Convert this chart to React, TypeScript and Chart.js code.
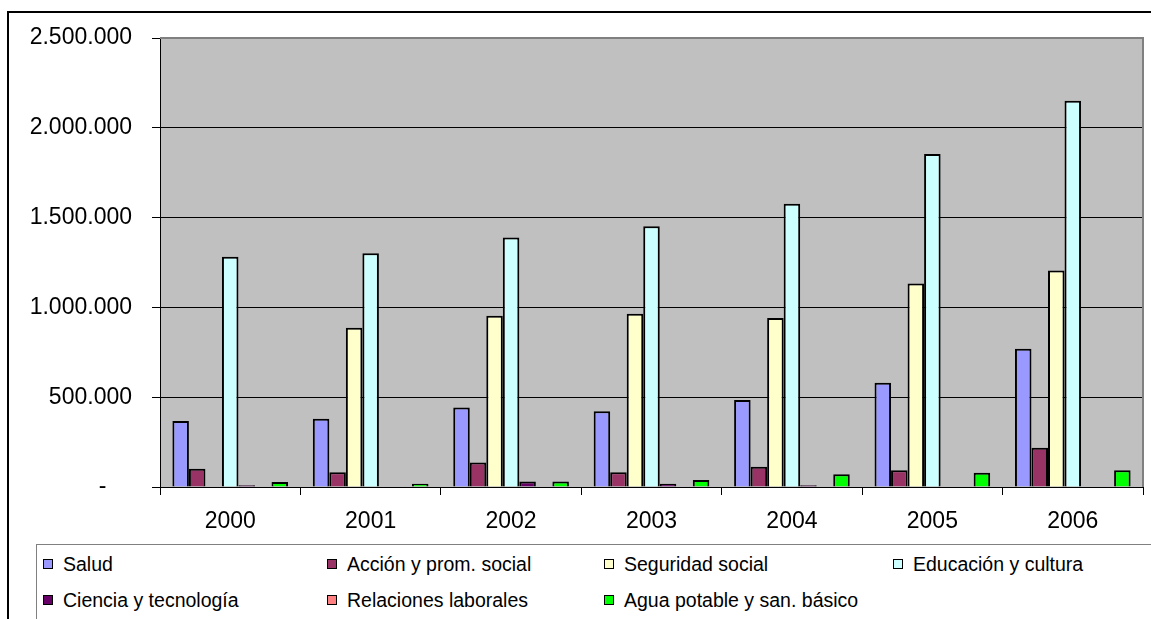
import React, { useEffect, useRef } from "react";
import { Chart, registerables } from "chart.js";

Chart.register(...registerables);

// Years on the category axis
const years = ["2000", "2001", "2002", "2003", "2004", "2005", "2006"];

// Spending per function and year
const salud = [368000, 380000, 442000, 422000, 484000, 580000, 770000];
const accionSocial = [102000, 82000, 136000, 82000, 113000, 93000, 219000];
const seguridadSocial = [0, 887000, 953000, 964000, 941000, 1133000, 1205000];
const educacionCultura = [1282000, 1302000, 1389000, 1452000, 1577000, 1854000, 2150000];
const cienciaTecnologia = [10000, 0, 30000, 18000, 10000, 0, 0];
const relacionesLaborales = [0, 0, 0, 0, 0, 0, 0];
const aguaPotable = [28000, 18000, 30000, 39000, 71000, 80000, 93000];

const seriesNames = [
  "Salud",
  "Acción y prom. social",
  "Seguridad social",
  "Educación y cultura",
  "Ciencia y tecnología",
  "Relaciones laborales",
  "Agua potable y san. básico",
];
const seriesValues = [
  salud,
  accionSocial,
  seguridadSocial,
  educacionCultura,
  cienciaTecnologia,
  relacionesLaborales,
  aguaPotable,
];
const seriesColors = ["#9999FF", "#993366", "#FFFFCC", "#CCFFFF", "#660066", "#FF8080", "#00FF00"];

// Value axis
const yMax = 2500000;
const yStep = 500000;

const FONT = "'Liberation Sans', Arial, Helvetica, sans-serif";

// Layout of the legend block: columns (square x) and row centres
const LEGEND_COLS = [43, 327, 604, 893];
const LEGEND_ROWS = [563.5, 600];

function formatThousands(v: number): string {
  if (v === 0) return "-    ";
  return String(Math.round(v)).replace(/\B(?=(\d{3})+(?!\d))/g, ".");
}

// Grey plot area with a grey frame on the top and right edges
const plotFrame = {
  id: "plotFrame",
  beforeDraw(chart: any) {
    const { ctx, chartArea: a } = chart;
    ctx.save();
    ctx.fillStyle = "#C0C0C0";
    ctx.fillRect(a.left, a.top, a.right - a.left, a.bottom - a.top);
    ctx.restore();
  },
  afterDraw(chart: any) {
    const { ctx, chartArea: a } = chart;
    ctx.save();
    ctx.strokeStyle = "#808080";
    ctx.lineWidth = 2;
    ctx.beginPath();
    ctx.moveTo(a.left, a.top);
    ctx.lineTo(a.right, a.top);
    ctx.lineTo(a.right, a.bottom);
    ctx.stroke();
    ctx.restore();
  },
};

function BarChart() {
  const ref = useRef<HTMLCanvasElement | null>(null);

  useEffect(() => {
    if (!ref.current) return;
    const chart = new Chart(ref.current, {
      type: "bar",
      data: {
        labels: years,
        datasets: seriesNames.map((name, i) => ({
          label: name,
          data: seriesValues[i],
          backgroundColor: seriesColors[i],
          borderColor: "#000000",
          borderWidth: 2,
          inflateAmount: 0,
          barPercentage: 1,
          categoryPercentage: 7 / 8.5,
        })),
      },
      options: {
        responsive: false,
        animation: false,
        devicePixelRatio: 1,
        layout: { padding: { left: 0, top: 38, right: 8, bottom: 0 } },
        plugins: {
          legend: { display: false },
          tooltip: { enabled: false },
          title: { display: false },
        },
        scales: {
          x: {
            afterFit: (scale: any) => {
              scale.height = 53;
            },
            grid: {
              display: true,
              drawOnChartArea: false,
              drawTicks: true,
              tickLength: 8,
              color: "#000000",
              offset: true,
            },
            border: { color: "#000000", width: 1 },
            ticks: {
              color: "#000000",
              padding: 13,
              font: { family: FONT, size: 23 },
              maxRotation: 0,
            },
          },
          y: {
            min: 0,
            max: yMax,
            afterFit: (scale: any) => {
              scale.width = 160;
            },
            grid: {
              color: (c: any) => (c.tick && c.tick.value === yMax ? "#808080" : "#000000"),
              tickColor: "#000000",
              tickLength: 8,
              lineWidth: 1,
            },
            border: { color: "#000000", width: 1 },
            ticks: {
              stepSize: yStep,
              color: "#000000",
              padding: 20,
              font: { family: FONT, size: 23 },
              callback: (v: any) => formatThousands(Number(v)),
            },
          },
        },
      },
      plugins: [plotFrame],
    });
    return () => chart.destroy();
  }, []);

  return (
    <canvas
      ref={ref}
      width={1151}
      height={540}
      style={{ position: "absolute", left: 0, top: 0, width: 1151, height: 540 }}
    />
  );
}

export default function App() {
  return (
    <div
      style={{
        position: "fixed",
        left: 0,
        top: 0,
        width: 1151,
        height: 619,
        overflow: "hidden",
        background: "#FFFFFF",
        fontFamily: FONT,
      }}
    >
      {/* outer chart frame */}
      <div
        style={{
          position: "absolute",
          left: 7,
          top: 11,
          width: 1400,
          height: 900,
          borderLeft: "2px solid #000",
          borderTop: "2px solid #000",
        }}
      />
      <BarChart />
      {/* legend block */}
      <div
        style={{
          position: "absolute",
          left: 36,
          top: 544,
          width: 1400,
          height: 400,
          borderLeft: "1px solid #808080",
          borderTop: "1px solid #808080",
        }}
      />
      {seriesNames.map((name, i) => {
        const col = i < 4 ? i : i - 4;
        const row = i < 4 ? 0 : 1;
        return (
          <div
            key={name}
            style={{
              position: "absolute",
              left: LEGEND_COLS[col],
              top: LEGEND_ROWS[row] - 12,
              height: 24,
              display: "flex",
              alignItems: "center",
              whiteSpace: "nowrap",
              fontSize: 19.5,
              lineHeight: "24px",
              color: "#000",
            }}
          >
            <span
              style={{
                display: "inline-block",
                width: 10,
                height: 10,
                boxSizing: "border-box",
                border: "1px solid #000",
                background: seriesColors[i],
                marginRight: 10,
              }}
            />
            <span>{name}</span>
          </div>
        );
      })}
    </div>
  );
}
